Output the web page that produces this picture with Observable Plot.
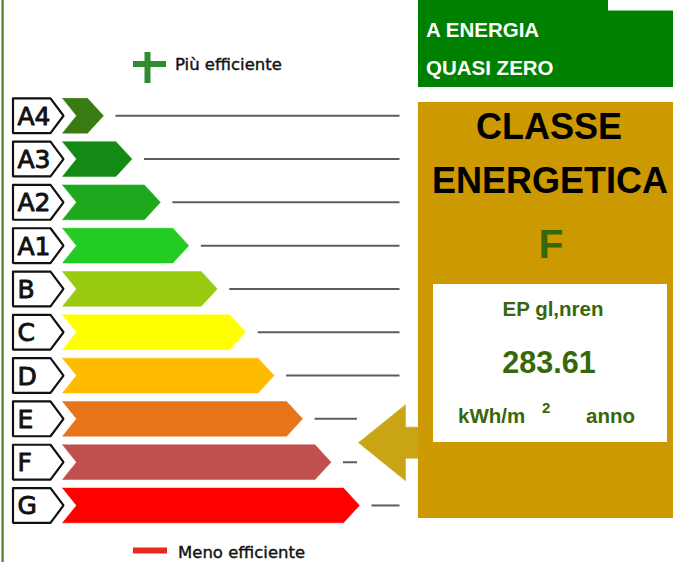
<!DOCTYPE html>
<html><head><meta charset="utf-8">
<script src="https://cdn.jsdelivr.net/npm/d3@7"></script>
<script src="https://cdn.jsdelivr.net/npm/@observablehq/plot@0.6"></script>
<style>
body{margin:0;background:#fff;}
#wrap{position:relative;width:673px;height:562px;overflow:hidden;background:#fff;}
#wrap > svg{position:absolute;left:0;top:0;}
</style></head><body><div id="wrap"></div>
<script>
// ---- data ----
const classes = ["A4","A3","A2","A1","B","C","D","E","F","G"];
const barLengths = [1,2,3,4,5,6,7,8,9,10];
const barColors = ["#3A7A12","#148A14","#1EA81E","#22CC22","#99CC11","#FFFF00","#FFBB00","#E8741A","#C0504D","#FF0000"];
const selectedClass = "F";
const headerLines = ["A ENERGIA","QUASI ZERO"];
const titleLines = ["CLASSE","ENERGETICA"];
const epLabel = "EP gl,nren";
const epValue = "283.61";
const unitLabel = "kWh/m";
const unitExp = "2";
const unitPer = "anno";
const topLegend = "Più efficiente";
const bottomLegend = "Meno efficiente";

// ---- geometry (px) ----
const W = 673, H = 562;
const X0 = 74.56, K = 28.44;      // px of length 0, px per length unit
const Y0 = 115.25, S = 43.3;      // px of first row centre, px per row
const toX = px => (px - X0) / K, ux = px => px / K;
const toY = px => (px - Y0) / S, uy = px => px / S;
const halfH = uy(17.4);

const rows = classes.map((c, i) => ({cls: c, i, v: barLengths[i], color: barColors[i]}));

// chevron polygons
const chevrons = rows.flatMap(r => {
  const L = toX(62);
  return [
    [L, r.i - halfH], [r.v - ux(16), r.i - halfH], [r.v, r.i], [r.v - ux(16), r.i + halfH],
    [L, r.i + halfH], [L + ux(14), r.i], [L, r.i - halfH]
  ].map(([x, y]) => ({cls: r.cls, x, y, color: r.color}));
});
// label pentagons
const tags = rows.flatMap(r => [
  [toX(12.5), r.i - halfH], [toX(50), r.i - halfH], [toX(63), r.i], [toX(50), r.i + halfH],
  [toX(12.5), r.i + halfH], [toX(12.5), r.i - halfH]
].map(([x, y]) => ({cls: r.cls, x, y})));

const sel = classes.indexOf(selectedClass);
const ac = sel - 0.45; // arrow centre row
const arrow = [
  [toX(358), ac], [toX(405), ac - uy(38)], [toX(405), ac - uy(15.5)], [toX(420), ac - uy(15.5)],
  [toX(420), ac + uy(15.5)], [toX(405), ac + uy(15.5)], [toX(405), ac + uy(38)], [toX(358), ac]
].map(([x, y]) => ({x, y}));

const chart = Plot.plot({
  width: W, height: H,
  marginTop: 0, marginRight: 0, marginBottom: 0, marginLeft: 0,
  x: {domain: [toX(0), toX(W)], axis: null},
  y: {domain: [toY(0), toY(H)], range: [0, H], axis: null},
  style: {background: "transparent"},
  marks: [
    Plot.line(chevrons, {x: "x", y: "y", z: "cls", fill: "color", stroke: "color", strokeWidth: 0.5, curve: "linear"}),
    Plot.line(tags, {x: "x", y: "y", z: "cls", fill: "white", stroke: "#111", strokeWidth: 2.2, strokeLinejoin: "miter"}),
    Plot.text(rows, {x: toX(17), y: "i", text: "cls", textAnchor: "start", fontSize: 25, fontFamily: "DejaVu Sans", fill: "#111", stroke: "#111", strokeWidth: 0.9, dy: 1}),
    Plot.link(rows, {x1: d => d.v + ux(12), x2: toX(399), y1: "i", y2: "i", stroke: "#5c5c5c", strokeWidth: 2}),
    Plot.rect([0], {x1: toX(357), x2: toX(418), y1: ac - uy(39), y2: ac + uy(39), fill: "white"}),
    Plot.line(arrow, {x: "x", y: "y", fill: "#C9A415", stroke: "#C9A415", strokeWidth: 0.5})
  ]
});
document.getElementById("wrap").appendChild(chart);

// ---- right panel & legends ----
const svg = d3.select("#wrap").append("svg").attr("width", W).attr("height", H)
  .style("font-family", "'Liberation Sans', Arial, sans-serif");
svg.append("rect").attr("x", 1.5).attr("y", 0).attr("width", 2.2).attr("height", H).attr("fill", "#4E7D22");
svg.append("rect").attr("x", 418).attr("y", 0).attr("width", 255).attr("height", 87).attr("fill", "#008000");
svg.append("rect").attr("x", 608).attr("y", 0).attr("width", 65).attr("height", 10.5).attr("fill", "#fff");
svg.append("rect").attr("x", 418).attr("y", 102).attr("width", 255).attr("height", 416).attr("fill", "#CC9900");
svg.append("rect").attr("x", 433).attr("y", 284).attr("width", 234).attr("height", 158).attr("fill", "#fff");
const txt = (s, x, y, size, fill, anchor = "start") => svg.append("text").text(s).attr("x", x).attr("y", y)
  .attr("font-size", size).attr("font-weight", "bold").attr("fill", fill).attr("text-anchor", anchor);
txt(headerLines[0], 426, 37, 20.5, "#fff");
txt(headerLines[1], 426, 75, 20.5, "#fff");
txt(titleLines[0], 549, 139, 36, "#000", "middle");
txt(titleLines[1], 550, 193, 36, "#000", "middle");
txt(selectedClass, 551, 258, 41, "#36680A", "middle");
txt(epLabel, 553, 316, 20.5, "#36680A", "middle");
txt(epValue, 549, 373, 30.5, "#36680A", "middle");
txt(unitLabel, 458, 423, 20.5, "#36680A");
txt(unitExp, 542, 413, 15, "#36680A");
txt(unitPer, 586, 423, 20.5, "#36680A");
// legends
svg.append("rect").attr("x", 144.5).attr("y", 52).attr("width", 6).attr("height", 31).attr("fill", "#2E8B2E");
svg.append("rect").attr("x", 133).attr("y", 61).attr("width", 33).attr("height", 6).attr("fill", "#2E8B2E");
svg.append("text").text(topLegend).attr("x", 175).attr("y", 70).attr("font-size", 16.5)
  .attr("font-family", "'DejaVu Sans', sans-serif").attr("fill", "#111")
  .attr("stroke", "#111").attr("stroke-width", 0.4);
svg.append("rect").attr("x", 133).attr("y", 547.5).attr("width", 34).attr("height", 6).attr("fill", "#E8281E");
svg.append("text").text(bottomLegend).attr("x", 178).attr("y", 557.5).attr("font-size", 16.5)
  .attr("font-family", "'DejaVu Sans', sans-serif").attr("fill", "#111")
  .attr("stroke", "#111").attr("stroke-width", 0.4);
</script></body></html>
